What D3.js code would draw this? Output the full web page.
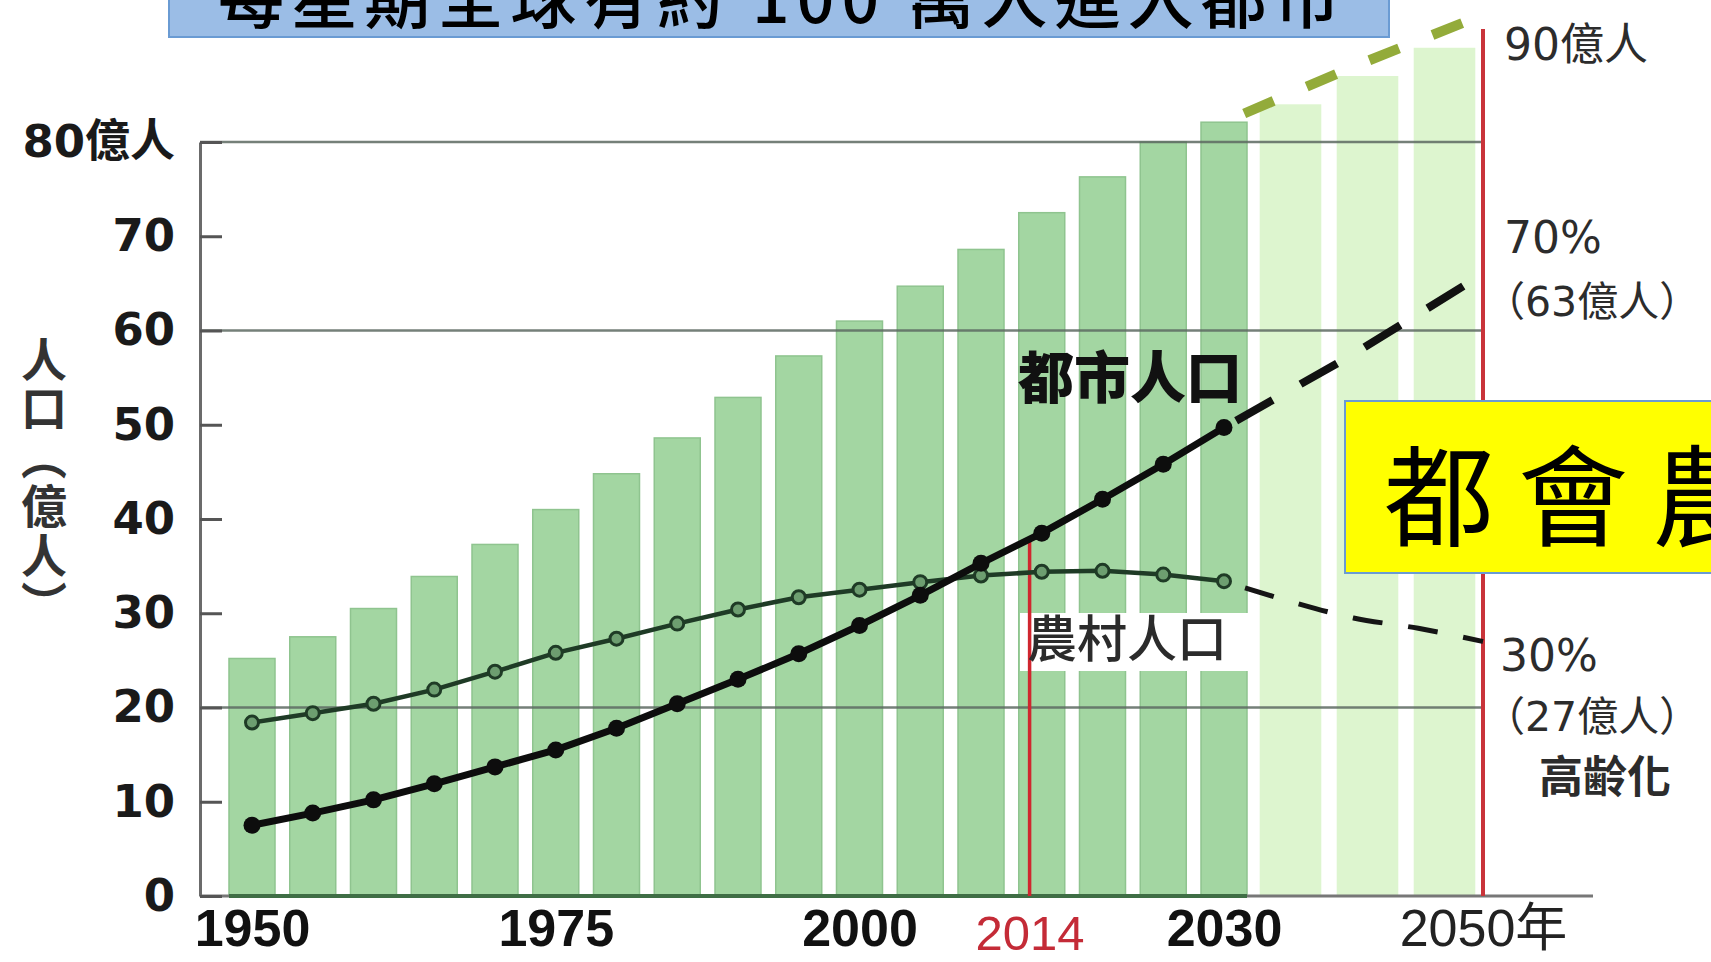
<!DOCTYPE html>
<html><head><meta charset="utf-8">
<script src="https://cdn.jsdelivr.net/npm/d3@7"></script>
<style>html,body{margin:0;padding:0;background:#fff;overflow:hidden}</style>
</head><body>
<svg id="c" width="1711" height="962"></svg>
<script>
// ---------- data ----------
const years      = [1950,1955,1960,1965,1970,1975,1980,1985,1990,1995,2000,2005,2010,2015,2020,2025,2030];
const totalPop   = [25.2,27.5,30.5,33.9,37.3,41.0,44.8,48.6,52.9,57.3,61.0,64.7,68.6,72.5,76.3,80.0,82.1];
const urbanPop   = [7.5,8.8,10.2,11.9,13.7,15.5,17.8,20.4,23.0,25.7,28.7,31.9,35.3,38.5,42.1,45.8,49.7];
const ruralPop   = [18.4,19.4,20.4,21.9,23.8,25.8,27.3,28.9,30.4,31.7,32.5,33.3,34.0,34.4,34.5,34.1,33.4];
const projYears  = [2035,2040,2045];
const projTotal  = [84,87,90];
const totalProjYears = [2030,2040,2050];
const totalProj      = [82.1,88.0,93.5];
const urbanProjYears = [2030,2040,2050];
const urbanProj      = [49.7,57.5,66];
const ruralProjYears = [2030,2035,2040,2045,2050];
const ruralProj      = [33.4,31.3,29.5,28.4,27.0];
const yTicks     = [0,10,20,30,40,50,60,70,80];
const gridValues = [20,60,80];
const xTickYears = [1950,1975,2000,2014,2030,2050];
const markYears  = [2014,2050];
const titleText  = "每星期全球有約 100 萬人進入都市";
const boxText    = "都會農";
const urbanLabel = "都市人口";
const ruralLabel = "農村人口";
const yTitle     = "人口（億人）";
const noteTop    = "90億人";
const noteUrban  = ["70%","（63億人）"];
const noteRural  = ["30%","（27億人）","高齢化"];

// ---------- setup ----------
const svg = d3.select("#c");
const CJK = "'Noto Sans CJK TC','Noto Sans CJK JP',sans-serif";
const x = d3.scaleLinear().domain([1950,2030,2050]).range([252,1224,1483]);
const y = d3.scaleLinear().domain([0,80]).range([896,142]);
const axisX0 = 200, axisXEnd = 1593;
const barW = 46;
const xp = d3.scaleBand().domain(projYears).range([x(2030)+28, x(2050)]).paddingInner(0.2).paddingOuter(0.1);

// light projected bars
svg.append("g").selectAll("rect").data(projYears).join("rect")
  .attr("x", d => xp(d)).attr("width", xp.bandwidth())
  .attr("y", (d,i) => y(projTotal[i])).attr("height", (d,i) => y(0)-y(projTotal[i]))
  .attr("fill", "#ddf5cf");

// dark bars
svg.append("g").selectAll("rect").data(years).join("rect")
  .attr("x", d => x(d)-barW/2).attr("width", barW)
  .attr("y", (d,i) => y(totalPop[i])).attr("height", (d,i) => y(0)-y(totalPop[i]))
  .attr("fill", "#a3d6a2").attr("stroke", "#8fc48f").attr("stroke-width", 1.5);

// white label box behind 農村人口
svg.append("rect").attr("x",1020).attr("y",613).attr("width",232).attr("height",58).attr("fill","#fff");

// gridlines
svg.append("g").selectAll("line").data(gridValues).join("line")
  .attr("x1", axisX0).attr("x2", x(2050))
  .attr("y1", d => y(d)).attr("y2", d => y(d))
  .attr("stroke", "#5d6a62").attr("stroke-width", 2.5).attr("opacity", 0.85);

// x baseline
svg.append("line").attr("x1",axisX0).attr("x2",axisXEnd).attr("y1",y(0)).attr("y2",y(0))
  .attr("stroke","#777").attr("stroke-width",3);
svg.append("line").attr("x1",x(1950)-barW/2).attr("x2",x(2030)+barW/2).attr("y1",y(0)).attr("y2",y(0))
  .attr("stroke","#3f6e45").attr("stroke-width",4);

// y axis
const yAxis = svg.append("g").attr("transform",`translate(${axisX0},0)`)
  .call(d3.axisLeft(y).tickValues(yTicks).tickSizeInner(-22).tickSizeOuter(0).tickPadding(25)
        .tickFormat(d => d === 80 ? "80億人" : d));
yAxis.select(".domain").attr("stroke","#6b6b6b").attr("stroke-width",3);
yAxis.selectAll(".tick line").attr("stroke","#555").attr("stroke-width",3);
yAxis.selectAll("text").attr("font-family","'DejaVu Sans',"+CJK).attr("font-weight","bold")
  .attr("font-size",45).attr("fill","#1a1a1a");

// x axis labels
const xAxis = svg.append("g").attr("transform",`translate(0,${y(0)})`)
  .call(d3.axisBottom(x).tickValues(xTickYears).tickSize(0).tickPadding(13)
        .tickFormat(d => d === 2050 ? "2050年" : d));
xAxis.select(".domain").remove();
xAxis.selectAll("text").attr("font-family","'Liberation Sans','Arial',"+CJK)
  .attr("font-size", d => d===2014 ? 49 : 52).attr("font-weight", d => (d===2014||d===2050) ? "normal" : "bold")
  .attr("fill", d => d===2014 ? "#c42b37" : (d===2050 ? "#222" : "#111"))
  .attr("dy", d => d===2014 ? "0.84em" : "0.71em");

// red reference lines
const urbanAt = yr => {
  const i = d3.bisectLeft(years, yr);
  const t = (yr - years[i-1])/(years[i]-years[i-1]);
  return urbanPop[i-1] + t*(urbanPop[i]-urbanPop[i-1]);
};
svg.append("line").attr("x1",x(markYears[0])).attr("x2",x(markYears[0]))
  .attr("y1",y(urbanAt(markYears[0]))).attr("y2",y(0)).attr("stroke","#d0262f").attr("stroke-width",3.5);
svg.append("line").attr("x1",x(markYears[1])).attr("x2",x(markYears[1]))
  .attr("y1",y(92)).attr("y2",y(0)).attr("stroke","#c9343a").attr("stroke-width",4);

// lines
const line = d3.line().x(d => x(d[0])).y(d => y(d[1]));
const zip = (a,b) => a.map((v,i) => [v,b[i]]);

svg.append("path").datum(zip(totalProjYears,totalProj)).attr("d",line)
  .attr("fill","none").attr("stroke","#93ab3a").attr("stroke-width",10).attr("stroke-dasharray","0,22,32,14");

svg.append("path").datum(zip(ruralProjYears,ruralProj)).attr("d",d3.line().x(d=>x(d[0])).y(d=>y(d[1])).curve(d3.curveMonotoneX))
  .attr("fill","none").attr("stroke","#151515").attr("stroke-width",5).attr("stroke-dasharray","0,22,30,4");

svg.append("path").datum(zip(urbanProjYears,urbanProj)).attr("d",line)
  .attr("fill","none").attr("stroke","#111").attr("stroke-width",8).attr("stroke-dasharray","0,14,42,18");

svg.append("path").datum(zip(years,ruralPop)).attr("d",line)
  .attr("fill","none").attr("stroke","#1f3b26").attr("stroke-width",4.5);
svg.append("g").selectAll("circle").data(zip(years,ruralPop)).join("circle")
  .attr("cx",d=>x(d[0])).attr("cy",d=>y(d[1])).attr("r",6.5)
  .attr("fill","#6d9e70").attr("stroke","#1f3b26").attr("stroke-width",3);

svg.append("path").datum(zip(years,urbanPop)).attr("d",line)
  .attr("fill","none").attr("stroke","#0d0d0d").attr("stroke-width",7).attr("stroke-linejoin","round");
svg.append("g").selectAll("circle").data(zip(years,urbanPop)).join("circle")
  .attr("cx",d=>x(d[0])).attr("cy",d=>y(d[1])).attr("r",8.5).attr("fill","#0d0d0d");

// series labels
svg.append("text").attr("x",1130).attr("y",398).attr("text-anchor","middle")
  .attr("font-family",CJK).attr("font-weight",900).attr("font-size",56).attr("fill","#111").text(urbanLabel);
svg.append("text").attr("x",1127).attr("y",657).attr("text-anchor","middle")
  .attr("font-family",CJK).attr("font-weight",500).attr("font-size",50).attr("fill","#2b2b2b").text(ruralLabel);

// y title (vertical)
svg.append("text").attr("x",44).attr("y",336).attr("letter-spacing",3)
  .attr("style","writing-mode: vertical-rl; text-orientation: mixed;")
  .attr("font-family",CJK).attr("font-weight",700).attr("font-size",46).attr("fill","#333").text(yTitle);

// right side notes
const noteFont = "'DejaVu Sans',"+CJK;
const note = (t,xx,yy,w,fs) => svg.append("text").attr("x",xx).attr("y",yy).attr("font-family",noteFont)
  .attr("font-size",fs||44).attr("font-weight",w||"normal").attr("fill","#2c2c2c").text(t);
note(noteTop,1504,60);
note(noteUrban[0],1504,253);
note(noteUrban[1],1484,316,"normal",41);
note(noteRural[0],1500,671);
note(noteRural[1],1484,731,"normal",41);
note(noteRural[2],1539,793,"bold");

// title box (cut off at top)
svg.append("rect").attr("x",169).attr("y",-20).attr("width",1220).attr("height",57)
  .attr("fill","#9bbde6").attr("stroke","#6a9bd3").attr("stroke-width",2);
svg.append("text").attr("x",218).attr("y",23).attr("textLength",1122).attr("lengthAdjust","spacing")
  .attr("font-family",CJK).attr("font-weight",500).attr("font-size",66).attr("fill","#000").text(titleText);

// yellow box (cut off at right)
svg.append("rect").attr("x",1345).attr("y",401).attr("width",400).attr("height",172)
  .attr("fill","#ffff00").attr("stroke","#6a9bd3").attr("stroke-width",2);
svg.append("text").attr("x",1384).attr("y",538).attr("letter-spacing",24)
  .attr("font-family",CJK).attr("font-weight",400).attr("font-size",110).attr("fill","#000").text(boxText);
</script>
</body></html>
